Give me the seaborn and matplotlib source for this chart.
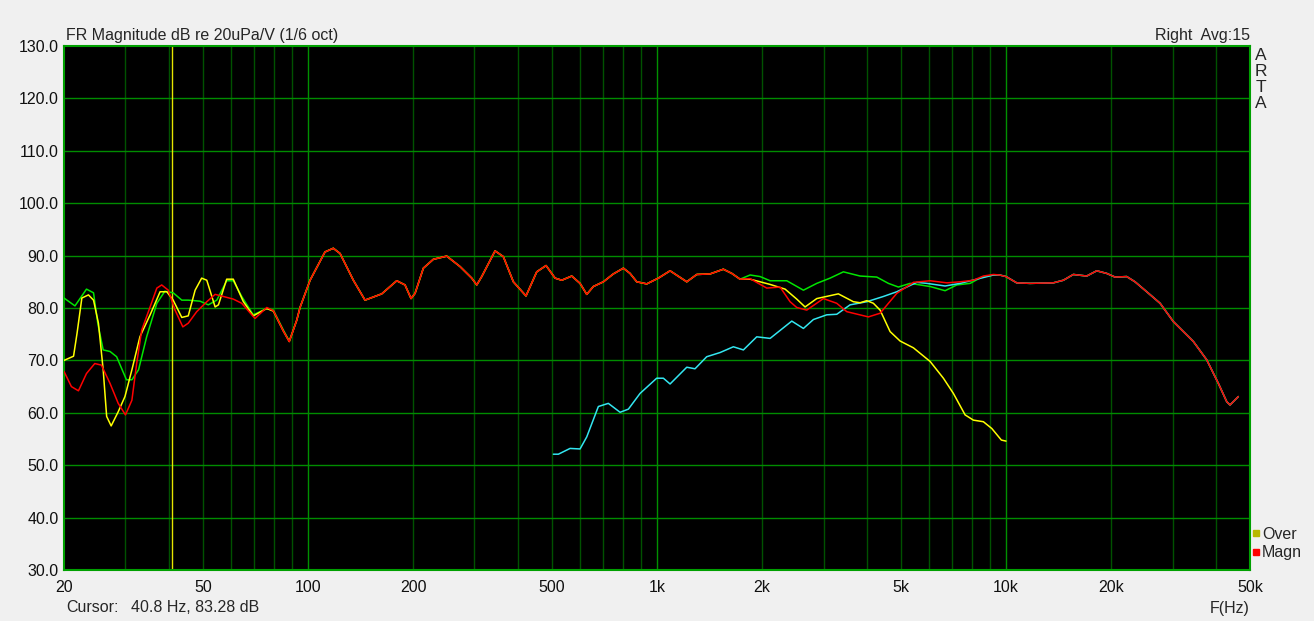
import matplotlib
matplotlib.use("Agg")
import matplotlib.pyplot as plt
import seaborn as sns
import pandas as pd
from matplotlib.lines import Line2D
from matplotlib.ticker import FixedLocator, NullLocator

# --- data (Hz, dB) ---
green_lo_f = [20, 21.5, 23.2, 24.3, 25.0, 25.9, 27.1, 28.3, 30.2, 31.3, 32.7, 34.5, 36.9, 38.9, 41.1,
              43.5, 45.4, 49.1, 51.8, 54.8, 58.5, 61.1, 64.6, 69.7, 76.2, 79.6, 85.0, 88.4, 92.9]
green_lo_db = [81.9, 80.4, 83.6, 82.9, 77.0, 72.0, 71.7, 70.7, 66.3, 66.3, 68.2, 74.5, 80.9, 83.2, 82.9,
               81.5, 81.5, 81.3, 80.6, 81.5, 85.2, 85.2, 82.2, 78.7, 79.9, 79.6, 75.8, 73.7, 77.7]

yellow_lo_f = [20, 21.3, 21.8, 22.5, 23.5, 24.3, 25.1, 25.9, 26.5, 27.3, 28.6, 29.9, 31.3, 33.0, 35.3, 37.7,
               39.4, 41.1, 43.5, 45.4, 47.5, 49.6, 51.3, 54.2, 55.4, 58.5, 61.1, 65.3, 69.7, 76.2, 79.6,
               85.0, 88.4, 92.9]
yellow_lo_db = [70.0, 70.8, 75.2, 81.9, 82.5, 81.5, 77.1, 68.2, 59.3, 57.5, 60.2, 63.1, 68.2, 74.5, 78.7, 83.1,
                83.1, 81.5, 78.2, 78.5, 83.4, 85.7, 85.3, 80.2, 80.6, 85.5, 85.5, 81.2, 78.5, 79.9, 79.4,
                75.6, 73.6, 77.7]

red_lo_f = [20, 21.0, 22.0, 23.2, 24.5, 25.6, 27.1, 28.6, 30.0, 31.3, 32.3, 33.4, 34.9, 36.9, 38.1, 39.8,
            41.6, 43.8, 45.4, 48.0, 51.3, 54.2, 57.2, 61.1, 64.6, 70.5, 76.2, 79.6, 85.0, 88.4, 92.9]
red_lo_db = [67.9, 65.0, 64.2, 67.5, 69.4, 69.1, 65.6, 61.8, 59.6, 62.4, 69.4, 75.8, 79.3, 83.8, 84.4, 83.4,
             79.6, 76.4, 77.1, 79.3, 81.2, 82.6, 82.2, 81.7, 80.9, 78.0, 80.1, 79.5, 75.6, 73.6, 77.7]

mid_f = [94.9, 101.4, 111.9, 118.2, 123.6, 134.9, 145.7, 162.7, 179.6, 189.7, 197.4, 202.7, 214.1, 228.7,
         249.8, 272.8, 294.6, 304.5, 314.7, 343.6, 362.9, 387.7, 421.4, 452.3, 481.0, 510.5, 533.5, 569.8,
         601.9, 629.1, 657.1, 702.0, 749.6, 801.0, 837.2, 875.0, 934.6, 1009, 1090, 1217, 1300, 1419,
         1549, 1638, 1730]
mid_db = [80.1, 85.3, 90.7, 91.4, 90.4, 85.3, 81.5, 82.7, 85.2, 84.4, 81.8, 82.8, 87.6, 89.3,
          89.9, 87.9, 85.7, 84.4, 86.0, 90.9, 89.8, 85.0, 82.3, 86.9, 88.1, 85.7, 85.3, 86.1,
          84.7, 82.6, 84.1, 85.0, 86.5, 87.6, 86.6, 85.0, 84.6, 85.7, 87.1, 85.0, 86.4, 86.5,
          87.4, 86.6, 85.5]

green_hi_f = [1848, 1974, 2109, 2354, 2627, 2869, 3132, 3420, 3818, 4263, 4602, 4916, 5311, 6060, 6690,
              7227, 7889, 8521, 9202]
green_hi_db = [86.3, 86.0, 85.2, 85.2, 83.4, 84.7, 85.7, 86.9, 86.1, 85.9, 84.7, 84.0, 84.7, 84.1, 83.3,
               84.4, 84.7, 85.9, 86.3]

yellow_hi_f = [1848, 2109, 2328, 2514, 2656, 2869, 3308, 3653, 3818, 3991, 4168, 4357, 4654, 4971, 5428,
               6060, 6615, 7066, 7634, 8063, 8612, 9105, 9695, 10000]
yellow_hi_db = [85.5, 84.5, 83.6, 81.7, 80.2, 81.8, 82.7, 81.2, 81.0, 81.4, 80.9, 79.6, 75.5, 73.7, 72.4,
                69.8, 66.6, 63.7, 59.6, 58.6, 58.3, 57.0, 54.8, 54.6]

red_hi_f = [1848, 2063, 2252, 2406, 2514, 2686, 2997, 3273, 3497, 4033, 4357, 4864, 5428, 6060, 6765,
            7385, 8063, 8612, 9202]
red_hi_db = [85.6, 83.8, 84.0, 81.2, 80.1, 79.6, 81.8, 80.9, 79.3, 78.3, 79.0, 82.8, 84.9, 85.2, 84.8,
             85.0, 85.3, 86.1, 86.4]

cyan_f = [504.8, 521.7, 563.5, 601.9, 629.1, 679.2, 725.4, 783.8, 828, 894.3, 998, 1043, 1090, 1217, 1285,
          1388, 1516, 1655, 1768, 1931, 2109, 2433, 2627, 2806, 3065, 3273, 3574, 3991, 4453, 4864, 5551,
          5929, 6690, 7385, 8246, 9202]
cyan_db = [52.1, 52.1, 53.2, 53.1, 55.4, 61.2, 61.8, 60.1, 60.7, 63.7, 66.6, 66.6, 65.5, 68.7, 68.4,
           70.7, 71.5, 72.6, 72.0, 74.5, 74.2, 77.5, 76.1, 77.8, 78.7, 78.8, 80.6, 81.2, 82.2, 83.1, 84.9,
           84.7, 84.2, 84.7, 85.5, 86.3]

hf_f = [9582, 10000, 10730, 11720, 13660, 14600, 15590, 17030, 18190, 19430, 20530, 22170, 23420, 25300,
        27630, 30160, 34420, 37590, 40590, 42900, 43830, 46300]
hf_db = [86.3, 86.0, 84.8, 84.7, 84.8, 85.3, 86.4, 86.1, 87.1, 86.6, 85.9, 86.0, 85.0, 83.1,
         80.9, 77.4, 73.6, 70.1, 65.6, 62.1, 61.5, 63.1]

tick_f = [20, 50, 100, 200, 500, 1000, 2000, 5000, 10000, 20000, 50000]
tick_lbl = ["20", "50", "100", "200", "500", "1k", "2k", "5k", "10k", "20k", "50k"]
cursor_f = 40.8

curves = {
    "green": (green_lo_f + mid_f + green_hi_f + hf_f, green_lo_db + mid_db + green_hi_db + hf_db, "#00e600"),
    "cyan": (cyan_f + hf_f, cyan_db + hf_db, "#33e6f0"),
    "yellow": (yellow_lo_f + mid_f + yellow_hi_f, yellow_lo_db + mid_db + yellow_hi_db, "#ffff00"),
    "red": (red_lo_f + mid_f + red_hi_f + hf_f, red_lo_db + mid_db + red_hi_db + hf_db, "#ff0000"),
}

sns.set_style("white")
plt.rcParams['font.family'] = ['Liberation Sans', 'DejaVu Sans']
fs = 11.5

fig = plt.figure(figsize=(13.14, 6.21), dpi=100, facecolor="#f0f0f0")
ax = fig.add_axes([64 / 1314, 1 - 570 / 621, 1186 / 1314, 524 / 621])
ax.set_facecolor("black")
ax.set_xscale("log")
ax.set_xlim(20, 50000)
ax.set_ylim(30, 130)

# grid
for dec in [10, 100, 1000, 10000]:
    for m in range(1, 10):
        f = dec * m
        if 20 < f < 50000:
            ax.axvline(f, color="#009000" if m == 1 else "#005200", lw=1, zorder=1)
for y in range(40, 130, 10):
    ax.axhline(y, color="#008c00", lw=1, zorder=1)
ax.axvline(cursor_f, color="#e6e600", lw=1, zorder=2)

for name, (f, db, col) in curves.items():
    df = pd.DataFrame({"f": f, "db": db})
    sns.lineplot(data=df, x="f", y="db", color=col, lw=1.1, estimator=None, sort=False, ax=ax, zorder=3)

ax.xaxis.set_major_locator(FixedLocator(tick_f))
ax.xaxis.set_minor_locator(NullLocator())
ax.set_xticklabels(tick_lbl)
ax.set_yticks(range(30, 131, 10))
ax.set_yticklabels([f"{v:.1f}" for v in range(30, 131, 10)])
ax.tick_params(length=0, labelsize=fs, colors="#101010")
ax.tick_params(axis="x", pad=7)
ax.tick_params(axis="y", pad=4)
ax.set_xlabel("")
ax.set_ylabel("")
for s in ax.spines.values():
    s.set_color("#00a000")
    s.set_linewidth(1.5)

fig.text(66 / 1314, 1 - 40 / 621, "FR Magnitude dB re 20uPa/V (1/6 oct)", fontsize=fs, va="baseline")
fig.text(1250 / 1314, 1 - 40 / 621, "Right  Avg:15", fontsize=fs, va="baseline", ha="right")
for i, ch in enumerate("ARTA"):
    fig.text(1261 / 1314, 1 - (55 + 16 * i) / 621, ch, fontsize=12.5, ha="center", va="center")
fig.text(66 / 1314, 1 - 608 / 621, "Cursor:", fontsize=fs, va="center")
fig.text(131 / 1314, 1 - 608 / 621, "40.8 Hz, 83.28 dB", fontsize=fs, va="center")
fig.text(1250 / 1314, 1 - 608 / 621, "F(Hz)", fontsize=fs, va="center", ha="right")

handles = [Line2D([], [], marker="s", ls="", color="#b8b800", markersize=4),
           Line2D([], [], marker="s", ls="", color="#ff0000", markersize=4)]
fig.legend(handles, ["Over", "Magn"], loc="upper left", bbox_to_anchor=(1253 / 1314, 1 - 527 / 621),
           frameon=False, fontsize=fs, handlelength=0.4, handletextpad=0.15, labelspacing=0.2,
           borderpad=0, borderaxespad=0)

fig.savefig("out.png", dpi=100, facecolor=fig.get_facecolor())
